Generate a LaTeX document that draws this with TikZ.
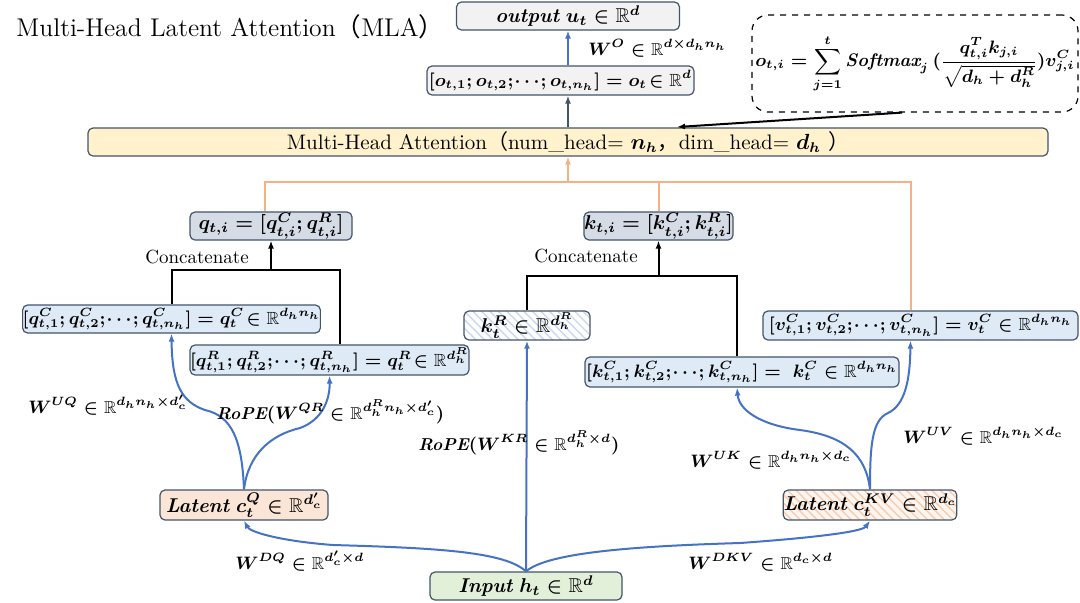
\documentclass[tikz,border=0pt]{standalone}
\usepackage{fontspec}
\usepackage{amsmath,amssymb}
\usepackage{bm}
\newfontfamily\cjk{Noto Sans CJK SC}
\usetikzlibrary{arrows.meta,patterns.meta}
\newcommand{\bR}{\mathbb{R}}
\newcommand{\bword}[1]{\text{\bfseries\itshape #1}}
\newcommand{\dts}{\mkern-2mu\cdots\mkern-2mu}

\definecolor{boxline}{HTML}{44546A}
\definecolor{qkfill}{HTML}{D6DCE5}
\definecolor{lblue}{HTML}{DEEBF7}
\definecolor{outfill}{HTML}{F2F2F2}
\definecolor{mhafill}{HTML}{FFF2CC}
\definecolor{peach}{HTML}{FBE5D6}
\definecolor{lgreen}{HTML}{E2F0D9}
\definecolor{arrblue}{HTML}{4472C4}
\definecolor{lorange}{HTML}{F4B183}

\tikzset{
  box/.style={draw=boxline, rounded corners=2.5pt, line width=0.6pt, inner sep=0pt,
    font=\fontsize{10}{12}\selectfont\boldmath},
  longbox/.style={box, font=\fontsize{8.8}{10}\selectfont\boldmath},
  lbl/.style={anchor=west, inner sep=0pt, font=\fontsize{8.6}{10}\selectfont\boldmath},
  bluearr/.style={draw=arrblue, line width=1pt, -{Latex[length=4pt,width=3pt]}},
  orangeln/.style={draw=lorange, line width=1pt},
  blk/.style={draw=black, line width=1pt},
}

\begin{document}
\begin{tikzpicture}[x=0.5pt,y=-0.5pt]
  \useasboundingbox (0,0) rectangle (1080,602);

  % title
  \node[anchor=west, inner sep=0pt, font=\fontsize{12.8}{15}\selectfont] (title) at (16,27)
    {Multi-Head Latent Attention{\cjk （}MLA{\cjk ）}};

  % top part
  \node[box, fill=outfill, minimum width=111.5pt, minimum height=14pt] (out) at (568,16)
    {$\bword{output}\ u_t \in \bR^{d}$};
  \node[longbox, fill=outfill, minimum width=133.5pt, minimum height=14.5pt] (ocat) at (560.5,80.5)
    {$[o_{t,1}; o_{t,2}; \dts; o_{t,n_h}] = o_t \!\in \bR^{d}$};
  \node[box, fill=mhafill, minimum width=480pt, minimum height=14pt,
    font=\fontsize{10.5}{12}\selectfont] (mha) at (568,142)
    {Multi-Head Attention{\cjk （}num\_head= $\bm{n_h}${\cjk ，}dim\_head= $\bm{d_h}$ {\cjk ）}};
  \node[draw=black, dashed, rounded corners=8pt, line width=0.6pt, inner sep=0pt,
    minimum width=163pt, minimum height=48.5pt, font=\fontsize{9.1}{11}\selectfont\boldmath] (fml) at (915,63.5)
    {$\displaystyle o_{t,i} = \sum_{j=1}^{t} \bword{Softmax}_j\,(\frac{q_{t,i}^{T}k_{j,i}}{\sqrt{d_h+d_h^{R}}})v_{j,i}^{C}$};
  \coordinate (fa) at (677,127);

  % q and k
  \node[box, fill=qkfill, minimum width=81pt, minimum height=14pt] (q) at (271,226)
    {$q_{t,i} = [q_{t,i}^{C}; q_{t,i}^{R}]$};
  \node[box, fill=qkfill, minimum width=74.5pt, minimum height=14pt] (k) at (658.5,226)
    {$k_{t,i} = [k_{t,i}^{C}; k_{t,i}^{R}]$};
  \node[font=\fontsize{9.5}{11}\selectfont, inner sep=0pt] (catq) at (197,257) {Concatenate};
  \node[font=\fontsize{9.5}{11}\selectfont, inner sep=0pt] (catk) at (586,256) {Concatenate};

  \node[longbox, fill=lblue, minimum width=146.5pt, minimum height=14pt] (qC) at (171.5,319)
    {$[q_{t,1}^{C}; q_{t,2}^{C}; \dts; q_{t,n_h}^{C}] = q_t^{C} \!\in \bR^{d_h n_h}$};
  \node[longbox, fill=lblue, minimum width=137.5pt, minimum height=15pt] (qR) at (329.5,360)
    {$[q_{t,1}^{R}; q_{t,2}^{R}; \dts; q_{t,n_h}^{R}] = q_t^{R} \!\in \bR^{d_h^{R}}$};
  \node[box, preaction={fill=white}, pattern={Lines[angle=-45,distance=3pt,line width=0.7pt]},
    pattern color=arrblue!28, minimum width=63pt, minimum height=14.5pt] (kR) at (527,325.5)
    {$k_t^{R} \in \bR^{d_h^{R}}$};
  \node[longbox, fill=lblue, minimum width=157.5pt, minimum height=14.5pt] (vC) at (920.5,325.5)
    {$[v_{t,1}^{C}; v_{t,2}^{C}; \dts; v_{t,n_h}^{C}] = v_t^{C} \in \bR^{d_h n_h}$};
  \node[longbox, fill=lblue, minimum width=157pt, minimum height=15pt] (kC) at (742,372)
    {$[k_{t,1}^{C}; k_{t,2}^{C}; \dts; k_{t,n_h}^{C}] =\ k_t^{C} \in \bR^{d_h n_h}$};

  % latent and input
  \node[box, fill=peach, minimum width=84pt, minimum height=15pt] (lq) at (244,505)
    {$\bword{Latent}\ c_t^{Q} \in \bR^{d_c'}$};
  \node[box, preaction={fill=peach!40}, pattern={Lines[angle=-45,distance=3pt,line width=0.7pt]},
    pattern color=lorange!65, minimum width=85pt, minimum height=15pt] (lkv) at (870,505)
    {$\bword{Latent}\ c_t^{KV} \in \bR^{d_c}$};
  \node[box, fill=lgreen, minimum width=96pt, minimum height=14pt] (inp) at (526,586)
    {$\bword{Input}\ h_t \in \bR^{d}$};

  % top arrows
  \draw[bluearr] (out.south |- ocat.north) -- (out.south);
  \draw[bluearr, draw=boxline] (out.south |- mha.north) -- (out.south |- ocat.south);
  \draw[line width=1pt, -{Latex[length=4pt,width=3pt]}] ([xshift=-6.5pt]fml.south) -- (fa);

  % orange lines into attention
  \coordinate (oj) at (568,182);
  \draw[orangeln] ([xshift=-3pt]q.north) |- ([xshift=-5pt]vC.north |- oj) -- ([xshift=-5pt]vC.north);
  \draw[orangeln] (k.north) -- (k.north |- oj);
  \draw[orangeln, -{Latex[length=4pt,width=3pt]}] (oj) -- (oj |- mha.south);

  % concatenate trees
  \coordinate (qj) at (271,270);
  \coordinate (kj) at (658.5,276);
  \draw[blk] (qC.north) |- ([xshift=5pt]qR.north |- qj) -- ([xshift=5pt]qR.north);
  \draw[blk, -{Latex[length=4pt,width=3pt]}] (qj) -- (q.south);
  \draw[blk] (kR.north) |- ([xshift=-2.5pt]kC.north |- kj) -- ([xshift=-2.5pt]kC.north);
  \draw[blk, -{Latex[length=4pt,width=3pt]}] (kj) -- (k.south);

  % blue projections
  \draw[bluearr] (inp.north) -- (kR.south);
  \draw[bluearr] (inp.north) .. controls (505,552) and (440,548) .. (333,545)
    .. controls (280,541) and (250,532) .. (lq.south);
  \draw[bluearr] (inp.north) .. controls (548,552) and (640,546) .. (740,543)
    .. controls (810,538) and (862,532) .. (lkv.south);
  \draw[bluearr] (lq.north) .. controls (242,440) and (232,416) .. (205,410)
    .. controls (182,402) and (172,385) .. (qC.south);
  \draw[bluearr] (lq.north) .. controls (248,455) and (270,435) .. (300,428)
    .. controls (322,420) and (330,400) .. (qR.south);
  \draw[bluearr] (lkv.north) .. controls (866,455) and (845,436) .. (800,430)
    .. controls (760,425) and (739,410) .. ([xshift=-2.5pt]kC.south);
  \draw[bluearr] (lkv.north) .. controls (870,445) and (872,420) .. (888,413)
    .. controls (905,405) and (910,380) .. ([xshift=-5pt]vC.south);

  % weight labels
  \node[lbl] (wo) at (588,48) {$W^{O} \in \bR^{d\times d_h n_h}$};
  \node[lbl] (wuq) at (28,405) {$W^{UQ} \in \bR^{d_h n_h\times d_c'}$};
  \node[lbl] (wqr) at (216,412) {$\bword{RoPE}(W^{QR} \in \bR^{d_h^{R} n_h\times d_c'})$};
  \node[lbl] (wkr) at (418,443) {$\bword{RoPE}(W^{KR} \in \bR^{d_h^{R}\times d})$};
  \node[lbl] (wuk) at (690,460) {$W^{UK} \in \bR^{d_h n_h\times d_c}$};
  \node[lbl] (wuv) at (903,436) {$W^{UV} \in \bR^{d_h n_h\times d_c}$};
  \node[lbl] (wdq) at (235,561) {$W^{DQ} \in \bR^{d_c'\times d}$};
  \node[lbl] (wdkv) at (688,562) {$W^{DKV} \in \bR^{d_c\times d}$};
\end{tikzpicture}
\end{document}
